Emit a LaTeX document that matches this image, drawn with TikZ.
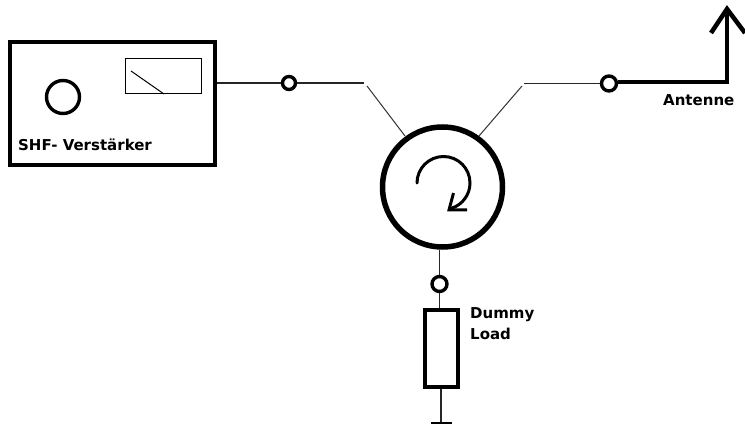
\documentclass[tikz,border=0pt]{standalone}
\usepackage{fontspec}
\setmainfont{DejaVu Sans}
\tikzset{
  wire/.style={line width=1.5pt,black!85},
  thin wire/.style={line width=1pt,black!80},
  terminal/.style={circle,draw,line width=3.4pt,minimum size=13pt,inner sep=0pt,fill=white},
  lbl/.style={font=\fontsize{15}{21}\selectfont\bfseries,inner sep=0pt,anchor=west,align=left,text=black},
  heavy/.style={line width=4.5pt},
}
\begin{document}
\begin{tikzpicture}[x=1pt,y=-1pt]
\useasboundingbox (0,0) rectangle (745,425);
\fill[white] (0,0) rectangle (745,425);
% amplifier
\node[draw,heavy,minimum width=205pt,minimum height=123pt,inner sep=0pt] (amp) at (112.5,103.5) {};
\node[circle,draw,line width=3.4pt,minimum size=33pt,inner sep=0pt] (knob) at (63,97) {};
\node[draw,line width=1pt,minimum width=76pt,minimum height=35pt,inner sep=0pt] (meter) at (163,76.5) {};
\coordinate (n1) at (131,71);
\coordinate (n2) at (164,94);
\draw[line width=1pt] (n1) -- (n2);
\node[lbl] (ampl) at (18,145) {SHF- Verstärker};
% terminals
\node[terminal] (t1) at (289,83) {};
\node[terminal,minimum size=15pt] (t2) at (609,83.5) {};
\node[terminal,minimum size=15pt] (t3) at (439.5,284) {};
% circulator
\node[circle,draw,line width=5.5pt,minimum size=120pt,inner sep=0pt] (circ) at (442.5,187) {};
\draw[line width=3pt,line cap=round] (417,183) arc[start angle=180,end angle=432,radius=26.5];
\coordinate (h1) at (453.5,193);
\coordinate (h2) at (449,210);
\coordinate (h3) at (467,210);
\draw[line width=3pt] (h1) -- (h2) -- (h3);
% switches
\coordinate (a1) at (364,83);
\coordinate (a2) at (367,86);
\coordinate (a3) at (405,136);
\coordinate (b1) at (524,83.5);
\coordinate (b2) at (522,86);
\coordinate (b3) at (479,136);
\draw[wire] (amp.east |- t1) -- (t1);
\draw[wire] (t1) -- (a1);
\draw[thin wire] (a2) -- (a3);
\draw[thin wire] (b2) -- (b3);
\draw[wire] (b1) -- (t2);
% antenna
\coordinate (c) at (727,82);
\coordinate (tip) at (727,9);
\coordinate (l) at (711,33);
\coordinate (r) at (745,33);
\draw[heavy,line join=miter] (t2.east |- c) -- (c) -- (tip);
\draw[heavy,line join=miter] (l) -- (tip) -- (r);
\node[lbl] (ant) at (663,100.5) {Antenne};
% load
\node[draw,heavy,minimum width=33pt,minimum height=77pt,inner sep=0pt] (res) at (441.5,348.5) {};
\node[lbl] (load) at (470,324) {Dummy\\Load};
\draw[wire] (t3 |- circ.south) -- (t3);
\draw[wire] (t3) -- (t3 |- res.north);
\coordinate (g) at (441,423);
\coordinate (g1) at (431,423);
\coordinate (g2) at (452,423);
\draw[wire] (g |- res.south) -- (g);
\draw[line width=2pt] (g1) -- (g2);
\end{tikzpicture}
\end{document}
